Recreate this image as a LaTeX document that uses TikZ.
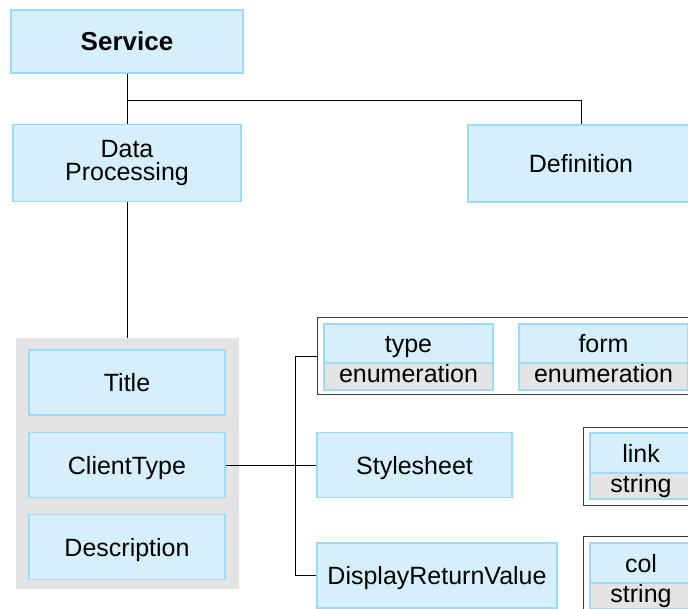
\documentclass[tikz,border=0pt]{standalone}
\usepackage{fontspec}
\setmainfont{Liberation Sans}
\definecolor{boxfill}{HTML}{D5F0FC}
\definecolor{boxline}{HTML}{9CDBF7}
\definecolor{panel}{HTML}{E4E4E4}
\definecolor{frameline}{HTML}{3A3A3A}
\begin{document}
\begin{tikzpicture}[x=1pt,y=-1pt,
  plainbox/.style={draw=boxline, fill=boxfill, line width=1.2pt, inner sep=0pt,
    font=\fontsize{25}{23.5}\selectfont, align=center},
  box/.style={plainbox, text height=18pt, text depth=0pt},
  typebox/.style={box, fill=panel, text depth=6pt},
  frame/.style={draw=frameline, fill=white, line width=1pt, inner sep=0pt},
  group/.style={fill=panel, inner sep=0pt},
  wire/.style={draw=black, line width=0.9pt}]
\useasboundingbox (0,0) rectangle (688,609);

% top level
\node[box, minimum width=232pt, minimum height=63pt,
      font=\fontsize{26}{23}\selectfont\bfseries] (service) at (127,41.5) {Service};
\node[plainbox, minimum width=228pt, minimum height=77pt] (dp) at (127,163) {Data\\Processing};
\node[box, minimum width=226pt, minimum height=77pt] (def) at (581,163.5) {Definition};
\coordinate (fork) at (127,100);
\draw[wire] (service.south) -- (fork) -| (def.north);
\draw[wire] (fork) -- (dp.north);

% grouped members of Data Processing
\node[group, minimum width=223pt, minimum height=251pt] (grp) at (127.5,463.5) {};
\draw[wire] (dp.south) -- (dp.south |- grp.north);
\node[box, minimum width=196pt, minimum height=65pt] (title) at (127,382.5) {Title};
\node[box, minimum width=196pt, minimum height=65pt] (ctype) at (127,465) {ClientType};
\node[box, minimum width=196pt, minimum height=65pt] (descr) at (127,547) {Description};

% attribute frames
\node[frame, minimum width=383pt, minimum height=77pt] (frameA) at (508.5,356.5) {};
\node[box, minimum width=169pt, minimum height=39pt] (typeN) at (408.5,343.5) {type};
\node[typebox, minimum width=169pt, minimum height=27pt] (typeT) at (408.5,376.5) {enumeration};
\node[box, minimum width=169pt, minimum height=39pt] (formN) at (603.5,343.5) {form};
\node[typebox, minimum width=169pt, minimum height=27pt] (formT) at (603.5,376.5) {enumeration};

\node[frame, minimum width=117pt, minimum height=78pt] (frameB) at (641.5,466) {};
\node[box, minimum width=102pt, minimum height=40pt] (linkN) at (641,453) {link};
\node[typebox, minimum width=102pt, minimum height=26pt] (linkT) at (641,486) {string};

\node[frame, minimum width=117pt, minimum height=80pt] (frameC) at (641.5,576) {};
\node[box, minimum width=102pt, minimum height=40pt] (colN) at (641,563) {col};
\node[typebox, minimum width=102pt, minimum height=26pt] (colT) at (641,596) {string};

% children of ClientType
\node[box, minimum width=195pt, minimum height=65pt] (style) at (414.5,465) {Stylesheet};
\node[box, minimum width=240pt, minimum height=65pt] (drv) at (437,575.5) {DisplayReturnValue};

\coordinate (busTop) at (295,356.5);
\coordinate (busBot) at (295,575.5);
\draw[wire] (ctype.east) -- (style.west);
\draw[wire] (busTop) -- (busBot);
\draw[wire] (busTop) -- (frameA.west);
\draw[wire] (busBot) -- (drv.west);
\end{tikzpicture}
\end{document}
